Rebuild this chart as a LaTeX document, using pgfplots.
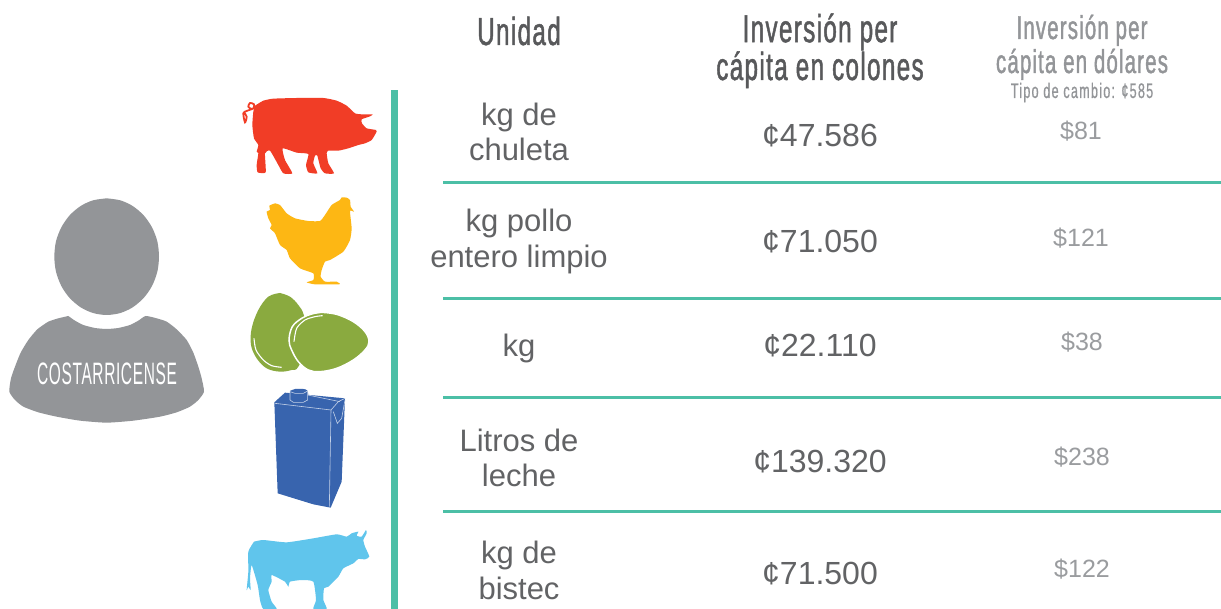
\documentclass[border=0pt]{standalone}
\usepackage{pgfplots}
\pgfplotsset{compat=1.18}
\usepackage{fontspec}
\setmainfont{Liberation Sans}
\newfontfamily\headfont[FakeStretch=0.62,LetterSpace=3.5,FakeBold=1.2]{Liberation Sans}
\newfontfamily\tipofont[FakeStretch=0.6,LetterSpace=6,FakeBold=0.6]{Liberation Sans}
\newfontfamily\thinfont[FakeStretch=0.5,LetterSpace=2]{Liberation Sans}
\definecolor{dk}{HTML}{626365}
\definecolor{gy}{HTML}{9A9C9F}
\definecolor{hd}{HTML}{58595B}
\definecolor{hg}{HTML}{939598}
\definecolor{tl}{HTML}{4CBFA6}
\definecolor{pigr}{HTML}{F13D26}
\definecolor{hen}{HTML}{FDB714}
\definecolor{egg}{HTML}{8AAA3F}
\definecolor{box}{HTML}{3864AE}
\definecolor{bull}{HTML}{60C5EC}
\definecolor{per}{HTML}{939598}
\newcommand{\U}[3]{\node[anchor=base,text=dk,inner sep=0pt] at (axis cs:#1,#2) {\fontsize{31}{31}\selectfont #3};}
\newcommand{\B}[3]{\node[anchor=base,text=dk,inner sep=0pt] at (axis cs:#1,#2) {\fontsize{32}{32}\selectfont #3};}
\newcommand{\D}[3]{\node[anchor=base,text=gy,inner sep=0pt] at (axis cs:#1,#2) {\fontsize{25}{25}\selectfont #3};}
\begin{document}
\begin{tikzpicture}
\begin{axis}[hide axis,scale only axis,width=1221pt,height=609pt,xmin=0,xmax=1221,ymin=0,ymax=609,y dir=reverse,
  A/.style={x filter/.expression={230+x/3},y filter/.expression={85+y/3}},
  Z/.style={x filter/.expression={230+x/3},y filter/.expression={285+y/3}},
  P/.style={x filter/.expression={x/3},y filter/.expression={190+y/3}}]
\addplot[fill=white,draw=none] coordinates {(0,0)(1221,0)(1221,609)(0,609)} -- cycle;
% person
\addplot[fill=per,draw=none,smooth,P] coordinates {(320,25)(361,31)(398,48)(431,76)(456,112)(472,154)(477,200)(472,245)(456,288)(431,324)(398,352)(361,369)(320,375)(279,369)(242,352)(209,324)(184,288)(168,245)(163,200)(168,154)(184,112)(209,76)(242,48)(279,31)(320,25)} -- cycle;
\addplot[fill=per,draw=none,smooth,tension=0.35,P] coordinates {(205,378)(225,392)(250,405)(285,414)(320,417)(355,414)(390,405)(415,392)(437,378)(470,385)(500,395)(530,418)(560,450)(580,488)(595,530)(605,565)(612,605)(595,630)(570,650)(530,667)(480,680)(400,692)(320,698)(240,692)(170,680)(115,667)(70,650)(45,630)(28,605)(33,565)(45,530)(62,488)(85,450)(112,418)(145,395)(175,385)(205,378)} -- cycle;
% bar and rules
\addplot[fill=tl,draw=none] coordinates {(391,90)(398,90)(398,609)(391,609)} -- cycle;
\addplot[tl,line width=3pt] coordinates {(443,183)(1221,183)};
\addplot[tl,line width=3pt] coordinates {(443,299)(1221,299)};
\addplot[tl,line width=3pt] coordinates {(443,398)(1221,398)};
\addplot[tl,line width=3pt] coordinates {(443,511)(1221,511)};
% pig
\addplot[fill=pigr,draw=none,smooth,tension=0.3,A] coordinates {(75,62)(100,47)(130,41)(200,39)(280,39)(320,47)(350,62)(375,85)(395,88)(428,88)(420,94)(395,103)(396,115)(410,130)(438,135)(440,140)(425,165)(405,175)(385,180)(355,190)(325,197)(295,197)(290,205)(295,235)(312,265)(285,265)(272,250)(262,212)(255,212)(250,235)(262,265)(235,262)(228,240)(235,207)(200,203)(158,190)(165,225)(187,265)(160,265)(145,240)(120,197)(105,205)(107,262)(83,262)(80,240)(85,205)(80,200)(85,180)(72,160)(67,120)(70,80)(75,62)} -- cycle;
\addplot[pigr,line width=1.8pt,smooth,A] coordinates {(75,68)(65,72)(55,65)(60,54)(72,58)(70,70)(50,78)(40,85)(45,112)(50,95)(42,82)};
% hen
\addplot[fill=hen,draw=none,smooth,tension=0.3,A] coordinates {(135,355)(150,360)(170,385)(195,400)(235,408)(270,408)(285,390)(305,360)(330,345)(335,337)(350,338)(360,345)(362,365)(372,380)(360,378)(365,430)(360,465)(340,500)(300,525)(285,530)(275,555)(272,575)(285,590)(320,590)(328,598)(255,598)(230,592)(250,585)(250,565)(210,550)(180,520)(170,495)(150,480)(135,445)(120,430)(125,420)(115,400)(110,380)(120,375)(118,362)(135,355)} -- cycle;
% eggs
\addplot[fill=egg,draw=none,smooth,tension=0.6,Z] coordinates {(150,24)(180,35)(205,60)(222,92)(235,170)(205,245)(185,255)(150,260)(110,250)(80,220)(63,180)(65,130)(85,75)(115,35)(150,24)} -- cycle;
\addplot[fill=egg,draw=white,line width=1.5pt,smooth,tension=0.6,Z] coordinates {(275,82)(320,88)(370,110)(405,140)(417,170)(405,195)(370,225)(320,250)(270,260)(235,255)(205,230)(185,195)(177,165)(187,125)(215,100)(245,87)(275,82)} -- cycle;
\addplot[white,line width=1.1pt,smooth,Z] coordinates {(192,170)(200,130)(225,105)(255,95)(278,92)};
\addplot[white,line width=1.1pt,smooth,Z] coordinates {(72,160)(78,195)(100,225)(125,242)(155,247)};
% carton
\addplot[fill=box,draw=none,Z] coordinates {(133,352)(165,323)(345,340)(335,590)(302,668)(250,658)(143,625)} -- cycle;
\addplot[fill=box,draw=none,smooth,Z] coordinates {(180,318)(195,312)(220,312)(233,318)(233,345)(220,352)(190,352)(180,345)} -- cycle;
\addplot[white!70!box,line width=0.6pt,Z] coordinates {(135,355)(303,375)(298,665)};
\addplot[white!70!box,line width=0.6pt,Z] coordinates {(303,375)(325,350)(345,340)};
\addplot[white!70!box,line width=0.6pt,Z] coordinates {(310,380)(322,415)(335,400)(345,345)};
\addplot[white!70!box,line width=0.6pt,Z] coordinates {(233,330)(330,350)};
\addplot[white!70!box,line width=0.6pt,Z] coordinates {(180,320)(180,345)(190,352)(220,352)(233,345)(233,318)};
\addplot[white!70!box,line width=0.6pt,Z] coordinates {(180,320)(195,325)(220,325)(233,318)};
% bull
\addplot[fill=bull,draw=none,smooth,tension=0.3,Z] coordinates {(72,770)(100,765)(170,772)(250,760)(320,748)(350,755)(365,745)(385,740)(380,752)(395,755)(408,735)(410,745)(400,765)(405,785)(418,815)(405,823)(385,822)(370,835)(340,850)(325,875)(295,905)(282,910)(280,945)(290,972)(250,972)(258,945)(250,890)(215,885)(180,890)(175,905)(165,890)(125,870)(125,890)(115,915)(125,950)(140,972)(100,972)(90,945)(83,900)(65,840)(60,880)(62,915)(55,905)(50,915)(55,860)(55,800)(72,770)} -- cycle;
% person label
\node[anchor=base,text=white,inner sep=0pt] at (axis cs:107,385) {\thinfont\fontsize{31}{31}\selectfont COSTARRICENSE};
% headers
\node[anchor=base,text=hd,inner sep=0pt] at (axis cs:519,45) {\headfont\fontsize{39}{39}\selectfont Unidad};
\node[anchor=base,text=hd,inner sep=0pt,align=center,font={\headfont\fontsize{39}{35}\selectfont}] at (axis cs:820,80) {Inversión per\\cápita en colones};
\node[anchor=base,text=hg,inner sep=0pt,align=center,font={\headfont\fontsize{33}{34}\selectfont}] at (axis cs:1082,73) {Inversión per\\cápita en dólares};
\node[anchor=base,text=hg,inner sep=0pt] at (axis cs:1082,98) {\tipofont\fontsize{21}{21}\selectfont Tipo de cambio: ¢585};
% rows
\U{519}{126}{kg de}\U{519}{161}{chuleta}\B{820}{147}{¢47.586}\D{1081}{140}{\$81}
\U{519}{232}{kg pollo}\U{519}{268}{entero limpio}\B{820}{253}{¢71.050}\D{1081}{247}{\$121}
\U{519}{357}{kg}\B{820}{357}{¢22.110}\D{1082}{351}{\$38}
\U{519}{451}{Litros de}\U{519}{486}{leche}\B{820}{472}{¢139.320}\D{1082}{465}{\$238}
\U{519}{563}{kg de}\U{519}{599}{bistec}\B{820}{584}{¢71.500}\D{1082}{577}{\$122}
\end{axis}
\end{tikzpicture}
\end{document}
